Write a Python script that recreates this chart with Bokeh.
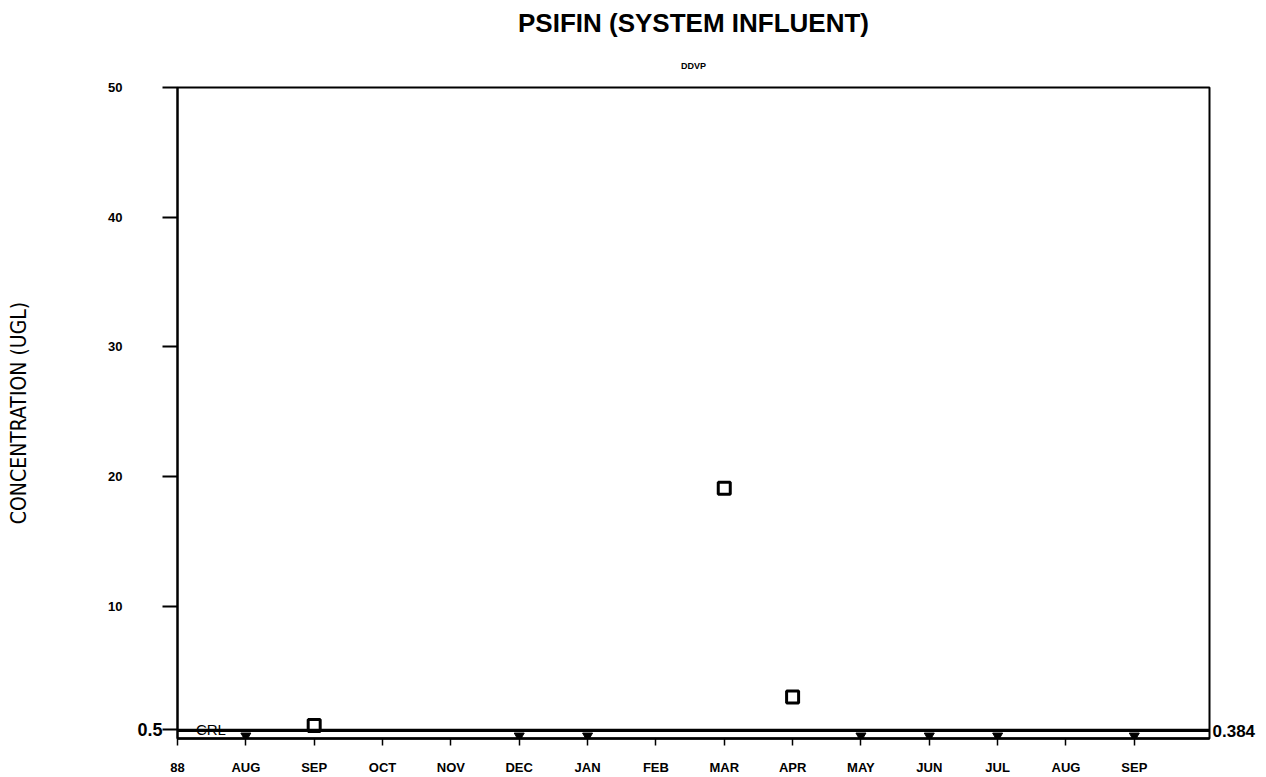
from bokeh.plotting import figure
from bokeh.models import FixedTicker, Label, Span, Range1d, LinearAxis, Title
from bokeh.embed import file_html
from bokeh.resources import INLINE

# ---- data ----
month_labels = ["88", "AUG", "SEP", "OCT", "NOV", "DEC", "JAN", "FEB",
                "MAR", "APR", "MAY", "JUN", "JUL", "AUG", "SEP"]
month_index = list(range(len(month_labels)))
detect_x = [2, 8, 9]            # SEP 88, MAR 89, APR 89
detect_y = [0.8, 19.1, 3.0]
nondetect_x = [1, 5, 6, 10, 11, 12, 14]
nondetect_y = [0, 0, 0, 0, 0, 0, 0]
crl_value = 0.5
limit_value = 0.384
y_ticks = [10, 20, 30, 40, 50]

BOLD = "'Liberation Sans', Arial, sans-serif"
NARROW = "'Liberation Sans Narrow', 'DejaVu Sans Condensed', sans-serif"

x0, x1 = 0, 15.1
p = figure(width=1266, height=777, x_range=Range1d(x0, x1), y_range=Range1d(-0.2, 50),
           output_backend="svg", toolbar_location=None,
           min_border_left=177, min_border_right=57, min_border_top=87, min_border_bottom=39)
p.grid.visible = False
p.outline_line_color = "black"
p.outline_line_width = 2
p.background_fill_color = "white"
p.border_fill_color = "white"

# titles
p.title = Title(text="PSIFIN (SYSTEM INFLUENT)", align="center", text_font=BOLD,
                text_font_style="bold", text_font_size="26px", text_color="black",
                standoff=10)
p.add_layout(Title(text="DDVP", align="center", text_font=BOLD, text_font_style="bold",
                   text_font_size="9px", text_color="black", standoff=33), "above")

# inner left axis: tick marks, plus the CRL value label
ya = p.yaxis[0]
ya.ticker = FixedTicker(ticks=[crl_value] + y_ticks)
ya.major_label_overrides = {crl_value: str(crl_value), **{t: "" for t in y_ticks}}
ya.major_tick_out = 15
ya.major_tick_in = 0
ya.minor_tick_out = 0
ya.minor_tick_in = 0
ya.major_tick_line_width = 2
ya.axis_line_width = 2
ya.major_label_standoff = 0
ya.major_label_text_font = BOLD
ya.major_label_text_font_style = "bold"
ya.major_label_text_font_size = "18px"
ya.major_label_text_color = "black"

# outer left axis: numeric labels and title
ya2 = LinearAxis(ticker=FixedTicker(ticks=y_ticks))
ya2.axis_line_color = None
ya2.major_tick_out = 0
ya2.major_tick_in = 0
ya2.minor_tick_out = 0
ya2.minor_tick_in = 0
ya2.major_label_standoff = 12
ya2.major_label_text_font = BOLD
ya2.major_label_text_font_style = "bold"
ya2.major_label_text_font_size = "13px"
ya2.major_label_text_color = "black"
ya2.axis_label = "CONCENTRATION (UGL)"
ya2.axis_label_text_font = NARROW
ya2.axis_label_text_font_style = "normal"
ya2.axis_label_text_font_size = "21px"
ya2.axis_label_text_color = "black"
ya2.axis_label_standoff = 74
p.add_layout(ya2, "left")

# right axis: detection limit label
ra = LinearAxis(ticker=FixedTicker(ticks=[limit_value]))
ra.major_label_overrides = {limit_value: str(limit_value)}
ra.axis_line_color = None
ra.major_tick_out = 0
ra.major_tick_in = 0
ra.minor_tick_out = 0
ra.minor_tick_in = 0
ra.major_label_standoff = 3
ra.major_label_text_font = BOLD
ra.major_label_text_font_style = "bold"
ra.major_label_text_font_size = "17px"
ra.major_label_text_color = "black"
p.add_layout(ra, "right")

# x axis
xa = p.xaxis[0]
xa.ticker = FixedTicker(ticks=month_index)
xa.major_label_overrides = {i: m for i, m in zip(month_index, month_labels)}
xa.major_tick_out = 7
xa.major_tick_in = 0
xa.minor_tick_out = 0
xa.minor_tick_in = 0
xa.major_tick_line_width = 1.5
xa.axis_line_width = 2.5
xa.major_label_standoff = 14
xa.major_label_text_font = BOLD
xa.major_label_text_font_style = "bold"
xa.major_label_text_font_size = "13px"
xa.major_label_text_color = "black"

# reference lines
p.add_layout(Span(location=crl_value, dimension="width", line_color="black", line_width=1.5))
p.add_layout(Span(location=limit_value, dimension="width", line_color="black", line_width=2))

# markers
p.scatter(detect_x, detect_y, marker="square", size=12, fill_color="white",
          line_color="black", line_width=3)
p.scatter(nondetect_x, nondetect_y, marker="inverted_triangle", size=10,
          fill_color="black", line_color="black")

# CRL text on the line
p.add_layout(Label(x=0.27, y=crl_value, text="CRL", text_font=BOLD, text_font_size="15px",
                   text_baseline="middle", text_align="left", text_color="black"))

open("out.html", "w").write(file_html(p, INLINE))
